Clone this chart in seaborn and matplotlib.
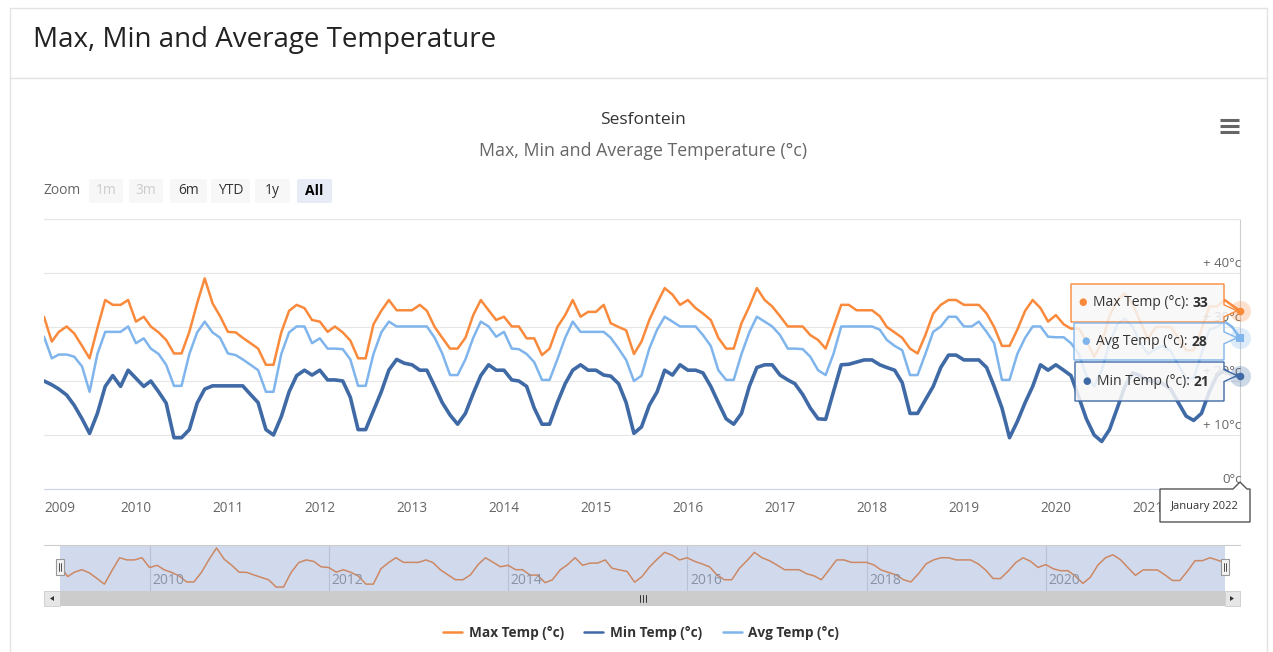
import numpy as np
import pandas as pd
import matplotlib
matplotlib.use("Agg")
import matplotlib.pyplot as plt
import matplotlib.dates as mdates
from matplotlib.patches import Rectangle, FancyBboxPatch, Polygon
from matplotlib.lines import Line2D
import seaborn as sns

# ---- data (monthly, Jan 2009 .. Jan 2022) ----
months = pd.date_range("2009-01-01", "2022-01-01", freq="MS")

max_temp = [31.9, 27.3, 29.1, 30.1, 28.8, 26.5, 24.2, 29.8, 35.0, 34.1, 34.1, 35.0,
            31.0, 31.9, 30.1, 29.0, 27.6, 25.1, 25.1, 29.1, 34.4, 39.0, 34.4, 32.0,
            29.1, 29.0, 28.0, 27.0, 26.0, 23.0, 23.0, 29.0, 33.0, 34.1, 33.5, 31.3,
            31.0, 29.1, 30.1, 29.0, 27.5, 24.2, 24.2, 30.5, 33.0, 35.0, 33.1, 33.1,
            33.1, 34.1, 33.0, 30.0, 28.0, 26.0, 26.0, 28.0, 32.2, 35.0, 33.1, 31.3,
            31.9, 30.1, 30.1, 27.9, 27.9, 24.8, 26.0, 30.0, 32.2, 35.0, 31.9, 32.8,
            32.8, 34.1, 30.7, 30.0, 29.4, 25.0, 27.3, 31.3, 34.4, 37.2, 36.0, 34.1,
            35.0, 33.5, 32.5, 31.3, 28.0, 26.0, 26.0, 30.7, 33.8, 37.2, 35.0, 33.8,
            32.0, 30.1, 30.1, 30.1, 28.5, 27.6, 26.0, 30.0, 34.1, 34.1, 33.1, 33.1,
            33.1, 32.0, 30.0, 29.0, 28.0, 26.0, 25.1, 28.5, 32.5, 34.1, 35.0, 35.0,
            34.1, 34.1, 34.1, 32.5, 30.0, 26.5, 26.5, 29.5, 33.0, 35.0, 33.5, 31.0,
            32.2, 30.5, 29.7, 29.7, 27.5, 24.5, 27.0, 32.0, 35.0, 36.2, 34.2, 31.0,
            27.8, 30.0, 30.0, 30.0, 28.0, 25.7, 25.7, 29.5, 33.8, 33.8, 35.0, 34.0,
            33.0]

min_temp = [20.0, 19.3, 18.5, 17.4, 15.5, 13.0, 10.3, 14.0, 19.0, 21.0, 19.0, 22.0,
            20.5, 19.0, 20.0, 18.0, 15.9, 9.5, 9.5, 11.0, 15.9, 18.5, 19.1, 19.1,
            19.1, 19.1, 19.1, 17.5, 16.0, 11.0, 10.0, 13.4, 18.0, 21.0, 22.0, 21.1,
            22.0, 20.2, 20.2, 20.0, 17.0, 11.0, 11.0, 14.5, 18.0, 22.0, 24.0, 23.3,
            23.0, 22.0, 22.0, 19.0, 16.0, 13.7, 12.0, 14.0, 17.7, 21.0, 23.0, 22.0,
            22.0, 20.2, 20.0, 19.0, 15.0, 12.0, 12.0, 16.0, 19.5, 22.0, 23.0, 22.0,
            22.0, 21.1, 20.9, 19.5, 16.0, 10.3, 11.5, 15.5, 18.0, 22.0, 21.1, 23.0,
            22.0, 22.0, 21.5, 19.0, 16.0, 13.0, 12.0, 14.0, 19.0, 22.5, 23.0, 23.0,
            21.1, 20.2, 19.5, 17.5, 15.0, 13.0, 12.9, 18.0, 23.0, 23.1, 23.5, 23.9,
            23.9, 23.0, 22.5, 22.0, 19.7, 14.0, 14.0, 16.5, 19.0, 22.5, 24.8, 24.8,
            23.9, 23.9, 23.9, 22.5, 19.0, 15.0, 9.5, 12.5, 16.0, 19.0, 23.0, 22.0,
            23.0, 22.0, 21.0, 17.0, 13.0, 10.0, 8.8, 11.0, 15.0, 19.0, 21.5, 21.0,
            20.0, 20.0, 19.5, 18.5, 16.0, 13.5, 12.7, 14.0, 18.0, 21.0, 22.0, 21.0,
            21.0]

avg_temp = [28.2, 24.2, 24.9, 24.9, 24.5, 22.7, 18.0, 25.0, 29.1, 29.1, 29.1, 30.1,
            27.0, 27.9, 26.0, 25.0, 23.0, 19.1, 19.1, 25.0, 29.0, 31.0, 29.0, 28.0,
            25.1, 24.8, 24.0, 23.0, 22.0, 18.0, 18.0, 25.0, 29.0, 30.1, 30.1, 27.0,
            27.9, 26.0, 26.0, 25.9, 24.0, 19.1, 19.1, 25.0, 29.0, 31.0, 30.1, 30.1,
            30.1, 30.1, 30.1, 28.0, 25.1, 21.1, 21.1, 24.0, 28.0, 31.0, 30.1, 28.2,
            29.1, 26.0, 25.9, 25.0, 23.5, 20.2, 20.2, 24.0, 28.0, 31.0, 29.1, 29.1,
            29.1, 29.1, 28.0, 26.0, 23.9, 20.0, 21.0, 26.0, 29.5, 31.9, 31.0, 30.1,
            30.1, 30.1, 28.5, 26.5, 22.0, 20.2, 20.2, 25.0, 29.0, 31.9, 31.0, 30.1,
            28.5, 26.0, 26.0, 25.9, 24.5, 22.0, 21.1, 25.0, 30.1, 30.1, 30.1, 30.1,
            30.1, 29.5, 27.6, 26.5, 25.7, 21.1, 21.1, 25.0, 29.1, 30.1, 31.9, 31.9,
            30.1, 30.1, 31.0, 29.1, 27.0, 20.2, 20.2, 25.0, 28.0, 30.1, 30.1, 28.2,
            28.1, 28.1, 27.0, 25.0, 21.0, 19.0, 22.0, 27.0, 30.5, 31.5, 30.0, 27.0,
            25.0, 26.0, 26.5, 25.5, 23.0, 20.5, 20.5, 25.0, 29.5, 30.0, 31.0, 30.0,
            28.0]

series_names = ["Max Temp (°c)", "Min Temp (°c)", "Avg Temp (°c)"]
series_colors = ["#f98a3c", "#3f6aa6", "#7fb5ec"]
year_ticks = list(range(2009, 2022))
nav_years = [2010, 2012, 2014, 2016, 2018, 2020]
y_ticks = [0, 10, 20, 30, 40, 50]
y_labels = ["0°c", "+ 10°c", "+ 20°c", "+ 30°c", "+ 40°c"]
zoom_buttons = ["1m", "3m", "6m", "YTD", "1y", "All"]

W, H = 1273, 652

df = pd.DataFrame({"date": months, "max": max_temp, "min": min_temp, "avg": avg_temp})

sns.set_style("white")
plt.rcParams['font.family'] = ['Open Sans', 'DejaVu Sans']

fig = plt.figure(figsize=(W / 100, H / 100), dpi=100)
fig.patch.set_facecolor("white")


def px(x, y):
    # pixel (top-left origin) -> figure fraction
    return x / W, 1 - y / H


def fig_line(x0, y0, x1, y1, **kw):
    fig.add_artist(Line2D([x0 / W, x1 / W], [1 - y0 / H, 1 - y1 / H], transform=fig.transFigure, **kw))


def fig_rect(x0, y0, x1, y1, **kw):
    fig.add_artist(Rectangle(px(x0, y1), (x1 - x0) / W, (y1 - y0) / H, transform=fig.transFigure, **kw))


# ---- page card ----
fig_rect(10, 8, 1267, 660, facecolor="none", edgecolor="#e3e3e3", lw=1, zorder=0)
fig_line(10, 78, 1267, 78, color="#e3e3e3", lw=1)
fig.text(*px(33, 40), "Max, Min and Average Temperature", fontsize=20, color="#222222", va="center",
         fontweight=500)

# titles
fig.text(*px(643, 120), "Sesfontein", fontsize=12.5, color="#333333", ha="center", va="center")
fig.text(*px(643, 151), "Max, Min and Average Temperature (°c)", fontsize=12.8, color="#666666",
         ha="center", va="center")

# menu icon
for yy in (120, 126, 132):
    fig_line(1220, yy, 1239, yy, color="#666666", lw=2.2, solid_capstyle="butt")

# range selector
fig.text(*px(44, 191), "Zoom", fontsize=10, color="#666666", va="center")
btn_x = [(89, 123), (129, 163), (170, 207), (211, 250), (255, 290), (297, 332)]
for (bx0, bx1), lab in zip(btn_x, zoom_buttons):
    disabled = lab in ("1m", "3m")
    selected = lab == "All"
    fc = "#e6ebf5" if selected else "#f7f7f7"
    fig.add_artist(FancyBboxPatch(px(bx0, 203), (bx1 - bx0) / W, 24 / H, boxstyle="round,pad=0,rounding_size=0.002",
                                  transform=fig.transFigure, facecolor=fc, edgecolor="none"))
    fig.text(*px((bx0 + bx1) / 2, 191), lab, fontsize=10, ha="center", va="center",
             color="#cccccc" if disabled else ("#000000" if selected else "#333333"),
             fontweight="bold" if selected else "normal")

# ---- main chart ----
ax = fig.add_axes([44 / W, 1 - 489 / H, (1240 - 44) / W, (489 - 219) / H])
line_kw = dict(solid_joinstyle="round", solid_capstyle="round")
sns.lineplot(data=df, x="date", y="max", ax=ax, color=series_colors[0], lw=1.8, label=series_names[0], **line_kw)
sns.lineplot(data=df, x="date", y="min", ax=ax, color=series_colors[1], lw=2.6, label=series_names[1], **line_kw)
sns.lineplot(data=df, x="date", y="avg", ax=ax, color=series_colors[2], lw=1.8, label=series_names[2], **line_kw)
ax.set_xlim(months[0], months[-1])
ax.set_ylim(0, 50)
ax.set_yticks(y_ticks)
ax.set_yticklabels([])
ax.yaxis.grid(True, color="#e6e6e6", lw=0.8)
ax.xaxis.grid(False)
ax.set_xlabel("")
ax.set_ylabel("")
tick_dates = [pd.Timestamp(f"{y}-01-01") for y in year_ticks]
ax.set_xticks(tick_dates)
ax.set_xticklabels([str(y) for y in year_ticks])
ax.tick_params(axis="x", length=6, width=0.8, color="#ccd6eb", labelsize=9.8, labelcolor="#666666", pad=3)
ax.tick_params(axis="y", length=0)
ax.get_xticklabels()[0].set_horizontalalignment("left")
ax.spines["left"].set_visible(False)
ax.spines["top"].set_color("#e6e6e6")
ax.spines["right"].set_color("#cfcfcf")
ax.spines["bottom"].set_color("#ccd6eb")
ax.legend_.remove()
ax.set_facecolor("white")

for v, lab in zip(y_ticks, y_labels):
    ax.annotate(lab, xy=(1.0, v), xycoords=("axes fraction", "data"), xytext=(1, 2),
                textcoords="offset points", ha="right", va="bottom", fontsize=9.5, color="#666666")

# hover markers on the last point
last = mdates.date2num(months[-1])
last_vals = [max_temp[-1], avg_temp[-1], min_temp[-1]]
last_cols = [series_colors[0], series_colors[2], series_colors[1]]
last_marks = ["o", "s", "o"]
for v, c, m in zip(last_vals, last_cols, last_marks):
    ax.scatter([last], [v], s=230, color=c, alpha=0.25, clip_on=False, zorder=6, linewidths=0)
    ax.scatter([last], [v], s=30, color=c, marker=m, clip_on=False, zorder=7, linewidths=0)

# ---- tooltips ----
renderer = fig.canvas.get_renderer()


def anchor_px(v):
    xd, yd = ax.transData.transform((last, v))
    return xd, H - yd


def callout_box(x0, y0, x1, y1, ax_, ay_, edge):
    verts = [(x0, y0), (x1, y0), (x1, ay_ - 6), (ax_, ay_), (x1, ay_ + 6), (x1, y1), (x0, y1)]
    fig.add_artist(Polygon([px(*p) for p in verts], closed=True, transform=fig.transFigure,
                           facecolor=(0.97, 0.97, 0.97, 0.85), edgecolor=edge, lw=1, zorder=5))


tips = [("Max Temp (°c): ", max_temp[-1], series_colors[0], 1071, 284, 322),
        ("Avg Temp (°c): ", avg_temp[-1], series_colors[2], 1074, 323, 360),
        ("Min Temp (°c): ", min_temp[-1], series_colors[1], 1075, 362, 401)]
for lab, val, col, x0, y0, y1 in tips:
    axp, ayp = anchor_px(val)
    callout_box(x0, y0, 1224, y1, axp - 3, ayp, col)
    yc = (y0 + y1) / 2
    fig.text(*px(x0 + 12, yc), "●", color=col, fontsize=7, ha="center", va="center", zorder=6)
    t = fig.text(*px(x0 + 22, yc), lab, color="#333333", fontsize=10, va="center", zorder=6)
    bb = t.get_window_extent(renderer)
    fig.text(bb.x1 / W, 1 - yc / H, f"{val:.0f}", color="#333333", fontsize=10, fontweight="bold",
             va="center", zorder=6)

# x-axis crosshair label
bx0, bx1, by0, by1 = 1160, 1250, 489, 522
axp, _ = anchor_px(0)
verts = [(bx0, by0), (axp - 7, by0), (axp, by0 - 7), (axp + 7, by0), (bx1, by0), (bx1, by1), (bx0, by1)]
fig.add_artist(Polygon([px(*p) for p in verts], closed=True, transform=fig.transFigure,
                       facecolor="white", edgecolor="#555555", lw=1, zorder=5))
fig.text(*px((bx0 + bx1) / 2, 506), months[-1].strftime("%B %Y"), fontsize=8, color="#333333",
         ha="center", va="center", zorder=6)

# ---- navigator ----
fig_line(44, 545, 1240, 545, color="#cccccc", lw=0.8)
nav = fig.add_axes([60 / W, 1 - 591 / H, (1225 - 60) / W, (591 - 545) / H])
sns.lineplot(data=df, x="date", y="max", ax=nav, color=series_colors[0], lw=1.1, **line_kw)
nav.set_xlim(months[0], months[-1])
nav.set_ylim(21.4, 40.2)
nav.set_xticks([])
nav.set_yticks([])
nav.set_xlabel("")
nav.set_ylabel("")
for s in nav.spines.values():
    s.set_visible(False)
for y in nav_years:
    d = pd.Timestamp(f"{y}-01-01")
    nav.axvline(d, color="#dddddd", lw=0.8, zorder=0)
    nav.annotate(str(y), xy=(d, 0), xycoords=("data", "axes fraction"), xytext=(2, 2),
                 textcoords="offset points", fontsize=10, color="#999999", ha="left", va="bottom")
nav.add_patch(Rectangle((0, 0), 1, 1, transform=nav.transAxes, facecolor=(0.4, 0.52, 0.76, 0.3),
                        edgecolor="none", zorder=4))
# handles
for hx in (60, 1225):
    fig_rect(hx - 4, 559, hx + 4, 575, facecolor="#f2f2f2", edgecolor="#999999", lw=0.8, zorder=5)
    fig_line(hx - 1, 563, hx - 1, 571, color="#333333", lw=0.6, zorder=6)
    fig_line(hx + 1, 563, hx + 1, 571, color="#333333", lw=0.6, zorder=6)

# scrollbar
fig_rect(44, 591, 1240, 606, facecolor="#f2f2f2", edgecolor="none")
fig_rect(60, 591, 1225, 606, facecolor="#cccccc", edgecolor="none")
fig_rect(44, 591, 60, 606, facecolor="#e6e6e6", edgecolor="#cccccc", lw=0.6)
fig_rect(1225, 591, 1240, 606, facecolor="#e6e6e6", edgecolor="#cccccc", lw=0.6)
fig.add_artist(Polygon([px(50, 598.5), px(54, 596), px(54, 601)], closed=True, transform=fig.transFigure,
                       facecolor="#333333", edgecolor="none"))
fig.add_artist(Polygon([px(1234, 598.5), px(1230, 596), px(1230, 601)], closed=True, transform=fig.transFigure,
                       facecolor="#333333", edgecolor="none"))
for gx in (640, 643, 646):
    fig_line(gx, 595, gx, 602, color="#333333", lw=0.7)

# ---- legend ----
handles = [Line2D([], [], color=c, lw=1.8) for c in series_colors]
fig.legend(handles, series_names, loc="center", bbox_to_anchor=px(641, 633), ncol=3, frameon=False,
           prop={"weight": "bold", "size": 9.8}, handlelength=1.4, handletextpad=0.5, columnspacing=1.5,
           labelcolor="#333333")

fig.savefig("out.png", dpi=100)
